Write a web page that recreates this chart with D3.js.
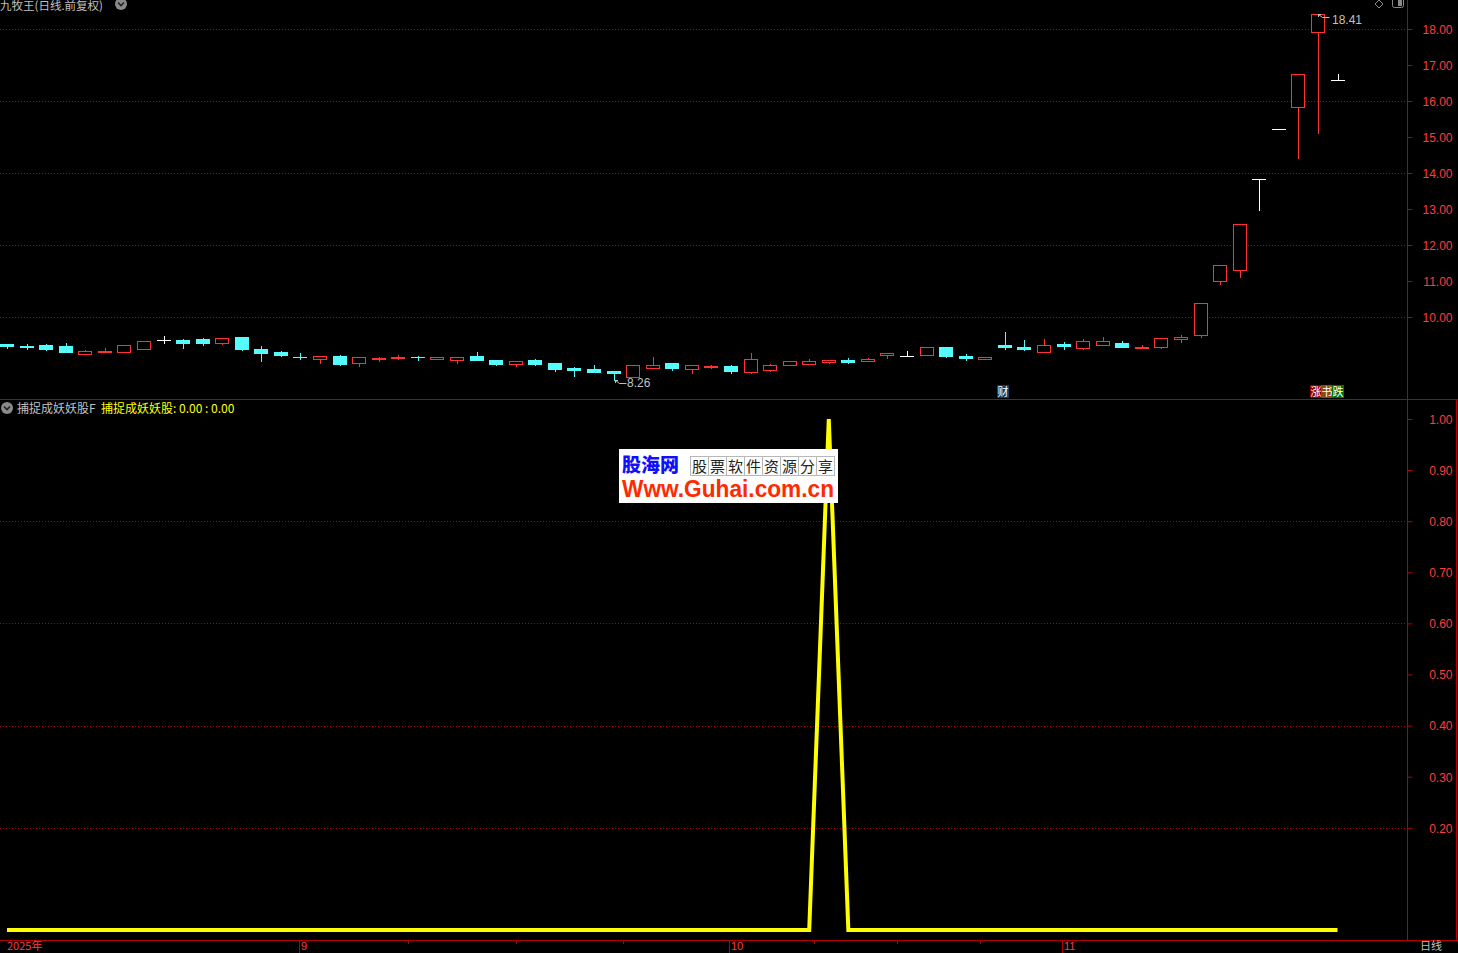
<!DOCTYPE html>
<html><head><meta charset="utf-8">
<script src="https://cdn.jsdelivr.net/npm/d3@7"></script>
<style>
html,body{margin:0;padding:0;background:#000;overflow:hidden}
svg{display:block}
</style></head><body>
<svg id="c" width="1458" height="953"></svg>
<script>
// ---------- DATA ----------
const dates = [
 "2025-08-11","2025-08-12","2025-08-13","2025-08-14","2025-08-15","2025-08-18","2025-08-19","2025-08-20","2025-08-21","2025-08-22",
 "2025-08-25","2025-08-26","2025-08-27","2025-08-28","2025-08-29",
 "2025-09-01","2025-09-02","2025-09-03","2025-09-04","2025-09-05","2025-09-08","2025-09-09","2025-09-10","2025-09-11","2025-09-12",
 "2025-09-15","2025-09-16","2025-09-17","2025-09-18","2025-09-19","2025-09-22","2025-09-23","2025-09-24","2025-09-25","2025-09-26",
 "2025-09-29","2025-09-30",
 "2025-10-09","2025-10-10","2025-10-13","2025-10-14","2025-10-15","2025-10-16","2025-10-17","2025-10-20","2025-10-21","2025-10-22",
 "2025-10-23","2025-10-24","2025-10-27","2025-10-28","2025-10-29","2025-10-30","2025-10-31",
 "2025-11-03","2025-11-04","2025-11-05","2025-11-06","2025-11-07","2025-11-10","2025-11-11","2025-11-12","2025-11-13","2025-11-14",
 "2025-11-17","2025-11-18","2025-11-19","2025-11-20","2025-11-21"
];
const open  = [9.25,9.19,9.22,9.19,8.98,9.04,9.04,9.12,9.35,9.36, 9.39,9.29,9.44,9.11,9.03,8.89,8.84,8.92,8.73,8.84,
               8.87,8.89,8.84,8.81,8.92,8.81,8.70,8.81,8.72,8.58, 8.56,8.50,8.34,8.59,8.72,8.56,8.62,8.64,8.48,8.54,
               8.67,8.70,8.76,8.81,8.79,8.94,8.92,8.94,9.16,8.92, 8.82,9.22,9.17,9.04,9.25,9.15,9.23,9.28,9.15,9.18,
               9.38,9.49,10.99,11.30,13.82,15.22,15.83,17.93,16.57];
const high  = [9.25,9.25,9.25,9.28,9.08,9.14,9.22,9.33,9.47,9.39, 9.42,9.42,9.44,9.19,9.06,9.00,8.92,8.94,8.89,8.89,
               8.94,8.92,8.89,8.88,9.03,8.81,8.78,8.83,8.72,8.61, 8.67,8.50,8.67,8.89,8.72,8.67,8.67,8.67,9.00,8.69,
               8.77,8.83,8.81,8.86,8.86,9.00,9.06,9.16,9.16,8.97, 8.88,9.58,9.36,9.39,9.31,9.39,9.44,9.33,9.22,9.42,
               9.50,10.38,11.44,12.57,13.82,15.22,16.74,18.41,16.75];
const low   = [9.15,9.11,9.08,9.03,8.98,9.04,9.04,9.12,9.28,9.14, 9.22,9.25,9.08,8.78,8.92,8.83,8.72,8.67,8.64,8.78,
               8.83,8.81,8.84,8.73,8.81,8.67,8.65,8.67,8.51,8.37, 8.47,8.26,8.34,8.59,8.54,8.45,8.59,8.45,8.45,8.51,
               8.67,8.70,8.72,8.72,8.79,8.87,8.92,8.94,8.90,8.81, 8.82,9.12,9.08,9.04,9.12,9.12,9.23,9.17,9.15,9.15,
               9.31,9.45,10.93,11.12,12.98,15.22,14.43,15.10,16.57];
const close = [9.19,9.18,9.11,9.03,9.06,9.05,9.22,9.33,9.35,9.28, 9.28,9.42,9.11,9.00,8.94,8.88,8.92,8.69,8.89,8.86,
               8.89,8.88,8.89,8.88,8.81,8.70,8.78,8.70,8.56,8.54, 8.47,8.45,8.67,8.67,8.59,8.67,8.64,8.50,8.83,8.67,
               8.77,8.78,8.81,8.76,8.83,9.00,8.92,9.16,8.92,8.87, 8.88,9.17,9.12,9.21,9.20,9.33,9.33,9.17,9.16,9.42,
               9.44,10.38,11.44,12.57,13.82,15.22,16.74,18.41,16.57];
const signal = [0,0,0,0,0,0,0,0,0,0, 0,0,0,0,0,0,0,0,0,0, 0,0,0,0,0,0,0,0,0,0, 0,0,0,0,0,0,0,0,0,0,
                0,0,1,0,0,0,0,0,0,0, 0,0,0,0,0,0,0,0,0,0, 0,0,0,0,0,0,0,0,0];
const priceTicks = [10,11,12,13,14,15,16,17,18];
const priceGrid  = [10,12,14,16,18];
const indTicks   = [0.2,0.3,0.4,0.5,0.6,0.7,0.8,0.9,1.0];
const indGrid    = [0.2,0.4,0.6,0.8];
const monthDates  = ["2025-09-01","2025-10-09","2025-11-03"];
const monthLabels = ["9","10","11"];
const minorTickIdx = [20.5,26,31.5,41.25,45.5,49.75];
const yearLabel = "2025年";
const title = "九牧王(日线.前复权)";
const indName = "捕捉成妖妖股F";
const indLegend = "捕捉成妖妖股: 0.00 : 0.00";
const lowLabel = "8.26", highLabel = "18.41";

// ---------- SETUP ----------
const W = 1458, H = 953;
const RED_LINE = "#b40000", RED_TXT = "#ff3c3c", CYAN = "#54fcfc", UPRED = "#ff3232", GRAY = "#c0c0c0";
const NUMFONT = "'Liberation Sans', Arial, sans-serif";
const CJK = "'Noto Sans CJK SC', 'Liberation Sans', sans-serif";
const svg = d3.select("#c");
svg.append("rect").attr("width", W).attr("height", H).attr("fill", "#000");

const n = dates.length;
const x = d3.scalePoint().domain(dates).range([7, 1337.5]);
const xi = d3.scaleLinear().domain([0, n - 1]).range([7, 1337.5]);
const yP = d3.scaleLinear().domain([10, 18]).range([317, 29]);
const yI = d3.scaleLinear().domain([0, 1]).range([930, 419]);
const px = v => Math.round(v) + 0.5;

// grids
svg.append("g").selectAll("line").data(priceGrid).join("line")
  .attr("x1", 0).attr("x2", 1407).attr("y1", d => px(yP(d))).attr("y2", d => px(yP(d)))
  .attr("stroke", RED_LINE).attr("stroke-dasharray", "1,2");
svg.append("g").selectAll("line").data(indGrid).join("line")
  .attr("x1", 0).attr("x2", 1407).attr("y1", d => px(yI(d))).attr("y2", d => px(yI(d)))
  .attr("stroke", RED_LINE).attr("stroke-dasharray", "1,2");

// frame lines
svg.append("line").attr("x1", 1407.5).attr("x2", 1407.5).attr("y1", 0).attr("y2", 400).attr("stroke", RED_LINE);
svg.append("line").attr("x1", 0).attr("x2", W).attr("y1", 399.5).attr("y2", 399.5).attr("stroke", RED_LINE);
svg.append("rect").attr("x", 1407.5).attr("y", 399.5).attr("width", 49).attr("height", 541)
  .attr("fill", "none").attr("stroke", RED_LINE);
svg.append("line").attr("x1", 0).attr("x2", W).attr("y1", 940.5).attr("y2", 940.5).attr("stroke", RED_LINE);

// axes
function styleAxis(g) {
  g.select(".domain").remove();
  g.selectAll(".tick line").attr("stroke", RED_LINE);
  g.selectAll(".tick text").attr("x", 45).attr("text-anchor", "end").attr("fill", RED_TXT)
    .attr("font-family", NUMFONT).attr("font-size", 12).attr("dy", "0.36em");
}
svg.append("g").attr("transform", "translate(1407.5,0)")
  .call(d3.axisRight(yP).tickValues(priceTicks).tickSize(5).tickFormat(d3.format(".2f"))).call(styleAxis);
svg.append("g").attr("transform", "translate(1407.5,0)")
  .call(d3.axisRight(yI).tickValues(indTicks).tickSize(5).tickFormat(d3.format(".2f"))).call(styleAxis);

// candles
const cg = svg.append("g");
dates.forEach((d, i) => {
  const cx = Math.round(x(d));
  const o = open[i], c = close[i], h = high[i], l = low[i];
  const col = c > o ? UPRED : (c < o ? CYAN : "#ffffff");
  const yTop = Math.round(yP(Math.max(o, c))), yBot = Math.round(yP(Math.min(o, c)));
  cg.append("line").attr("x1", cx + 0.5).attr("x2", cx + 0.5)
    .attr("y1", Math.round(yP(h))).attr("y2", Math.round(yP(l)) + 1).attr("stroke", col);
  if (c > o) {
    if (yBot - yTop < 1) {
      cg.append("rect").attr("x", cx - 7).attr("y", yTop).attr("width", 14).attr("height", 1).attr("fill", col);
    } else {
      cg.append("rect").attr("x", cx - 6.5).attr("y", yTop + 0.5).attr("width", 13).attr("height", yBot - yTop)
        .attr("fill", "#000").attr("stroke", col);
    }
  } else if (c < o) {
    cg.append("rect").attr("x", cx - 7).attr("y", yTop).attr("width", 14).attr("height", Math.max(1, yBot - yTop + 1))
      .attr("fill", col);
  } else {
    cg.append("rect").attr("x", cx - 7).attr("y", yTop).attr("width", 14).attr("height", 1).attr("fill", col);
  }
});

// high / low labels
const iLow = low.indexOf(d3.min(low)), iHigh = high.indexOf(d3.max(high));
(function () {
  const lx = Math.round(x(dates[iLow])), ly = Math.round(yP(low[iLow]));
  svg.append("path").attr("d", `M${lx + 1.5},${ly}v3M${lx + 1},${ly + 0.5}h3M${lx + 1.5},${ly + 0.5}l4,3h7`)
    .attr("stroke", GRAY).attr("fill", "none");
  svg.append("text").attr("x", lx + 13).attr("y", ly + 7).text(lowLabel)
    .attr("fill", GRAY).attr("font-family", NUMFONT).attr("font-size", 12);
  const hx = Math.round(x(dates[iHigh])), hy = Math.round(yP(high[iHigh]));
  svg.append("path").attr("d", `M${hx + 0.5},${hy}v3M${hx},${hy + 0.5}h3M${hx + 0.5},${hy + 0.5}l4,3h7`)
    .attr("stroke", GRAY).attr("fill", "none");
  svg.append("text").attr("x", hx + 14).attr("y", hy + 10).text(highLabel)
    .attr("fill", GRAY).attr("font-family", NUMFONT).attr("font-size", 12);
})();

// indicator line
svg.append("path").datum(signal)
  .attr("d", d3.line().x((v, i) => x(dates[i])).y(v => yI(v)))
  .attr("fill", "none").attr("stroke", "#ffff00").attr("stroke-width", 4).attr("stroke-linejoin", "miter");

// bottom axis
monthDates.forEach((d, k) => {
  const xx = Math.floor(x(d)) - 1 + 0.5;
  svg.append("line").attr("x1", xx).attr("x2", xx).attr("y1", 940).attr("y2", H).attr("stroke", RED_LINE);
  svg.append("text").attr("x", xx + 1.5).attr("y", 950).text(monthLabels[k])
    .attr("fill", RED_TXT).attr("font-family", NUMFONT).attr("font-size", 11);
});
svg.append("g").selectAll("line").data(minorTickIdx).join("line")
  .attr("x1", d => px(xi(d))).attr("x2", d => px(xi(d))).attr("y1", 940).attr("y2", 944).attr("stroke", RED_LINE);
svg.append("text").attr("x", 7).attr("y", 950).text(yearLabel)
  .attr("fill", RED_TXT).attr("font-family", CJK).attr("font-size", 11);
svg.append("text").attr("x", 1420).attr("y", 950).text("日线")
  .attr("fill", GRAY).attr("font-family", CJK).attr("font-size", 11);

// titles
svg.append("text").attr("x", 0).attr("y", 10).text(title).attr("fill", GRAY).attr("font-family", CJK).attr("font-size", 11.5);
function chevron(cx, cy) {
  svg.append("circle").attr("cx", cx).attr("cy", cy).attr("r", 6).attr("fill", "#8a8a8a");
  svg.append("path").attr("d", `M${cx - 3},${cy - 1.5}l3,3l3,-3`).attr("stroke", "#222").attr("stroke-width", 1.6).attr("fill", "none");
}
chevron(121, 4);
chevron(7, 408);
svg.append("text").attr("x", 17).attr("y", 413).text(indName).attr("fill", GRAY).attr("font-family", CJK).attr("font-size", 12);
svg.append("text").attr("x", 101).attr("y", 413).text(indLegend).attr("fill", "#ffff00").attr("font-family", CJK).attr("font-size", 12);

// top-right icons
svg.append("path").attr("d", "M1379,0l4,4l-4,4l-4,-4z").attr("fill", "none").attr("stroke", "#8a8a8a");
svg.append("rect").attr("x", 1392.5).attr("y", -3.5).attr("width", 11).attr("height", 11).attr("rx", 2)
  .attr("fill", "none").attr("stroke", "#8a8a8a");
svg.append("rect").attr("x", 1398).attr("y", -2).attr("width", 4).attr("height", 8).attr("fill", "#8a8a8a");

// badges
function badge(bx, by, ch, bg) {
  svg.append("rect").attr("x", bx).attr("y", by).attr("width", 12).attr("height", 13).attr("fill", bg);
  svg.append("text").attr("x", bx + 6).attr("y", by + 11).attr("text-anchor", "middle").text(ch)
    .attr("fill", "#fff").attr("font-family", CJK).attr("font-size", 11);
}
badge(997, 385, "财", "#103c6a");
badge(1310, 385, "涨", "#8a0000");
badge(1321, 385, "书", "#8a4a10");
badge(1332, 385, "跌", "#007000");

// watermark
svg.append("rect").attr("x", 619).attr("y", 449).attr("width", 219).attr("height", 54).attr("fill", "#fff");
svg.append("text").attr("x", 622).attr("y", 472).text("股海网").attr("fill", "#1010ff")
  .attr("font-family", CJK).attr("font-weight", 900).attr("font-size", 19);
const slogan = "股票软件资源分享".split("");
slogan.forEach((ch, k) => {
  svg.append("rect").attr("x", 690.5 + k * 18).attr("y", 456.5).attr("width", 18).attr("height", 19)
    .attr("fill", "none").attr("stroke", "#b8b8b8");
  svg.append("text").attr("x", 699.5 + k * 18).attr("y", 472).attr("text-anchor", "middle").text(ch)
    .attr("fill", "#222").attr("font-family", CJK).attr("font-size", 15);
});
svg.append("text").attr("x", 622).attr("y", 497).text("Www.Guhai.com.cn").attr("fill", "#ff2a00")
  .attr("font-family", NUMFONT).attr("font-weight", "bold").attr("font-size", 23)
  .attr("textLength", 212).attr("lengthAdjust", "spacingAndGlyphs");
</script>
</body></html>
